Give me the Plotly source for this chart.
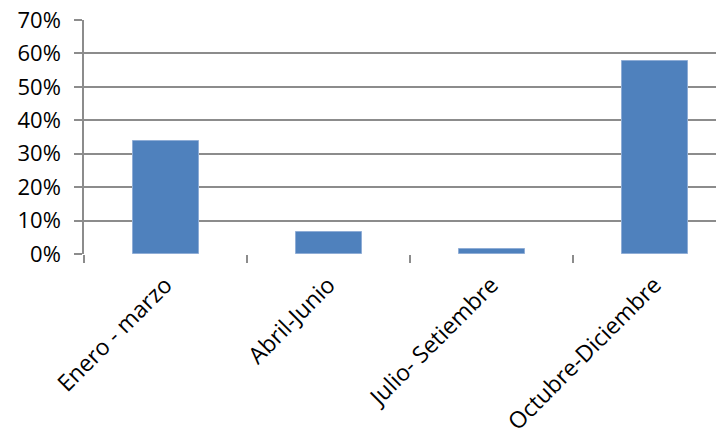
import plotly.graph_objects as go

categories = ["Enero - marzo", "Abril-Junio", "Julio- Setiembre", "Octubre-Diciembre"]
values = [0.337, 0.066, 0.016, 0.576]
y_ticks = [0, 0.1, 0.2, 0.3, 0.4, 0.5, 0.6, 0.7]
y_tick_labels = ["0%", "10%", "20%", "30%", "40%", "50%", "60%", "70%"]

fig = go.Figure()
fig.add_trace(go.Bar(
    x=categories, y=values, width=0.405,
    marker=dict(color="#4F81BD", line=dict(color="#8FADD6", width=1)),
))

# page body has an 8px default margin; compensate so the plot lands where the reference has it
fig.update_layout(
    width=724, height=431,
    margin=dict(l=76, r=8, t=12, b=185, autoexpand=False),
    paper_bgcolor="white", plot_bgcolor="white",
    showlegend=False,
    font=dict(family="Open Sans", size=21, color="black"),
    bargap=0,
)
fig.update_xaxes(
    type="category", range=[-0.5, 3.426], automargin=False,
    tickangle=-45, tickson="boundaries",
    ticks="outside", ticklen=8, tickcolor="#8C8C8C", tickwidth=1.5,
    showline=False, showgrid=False, zeroline=False,
    ticklabelstandoff=12, ticklabeloverflow="allow",
    tickfont=dict(family="Open Sans", size=23),
)
fig.update_yaxes(
    range=[0, 0.7], tickvals=y_ticks, ticktext=y_tick_labels, automargin=False,
    showgrid=True, gridcolor="#8C8C8C", gridwidth=1.5,
    showline=True, linecolor="#8C8C8C", linewidth=1.5,
    ticks="outside", ticklen=8, tickcolor="#8C8C8C", tickwidth=1.5,
    zeroline=False, ticklabelstandoff=9, ticklabeloverflow="allow",
    tickfont=dict(family="Open Sans", size=22),
)

fig.write_html("out.html")
